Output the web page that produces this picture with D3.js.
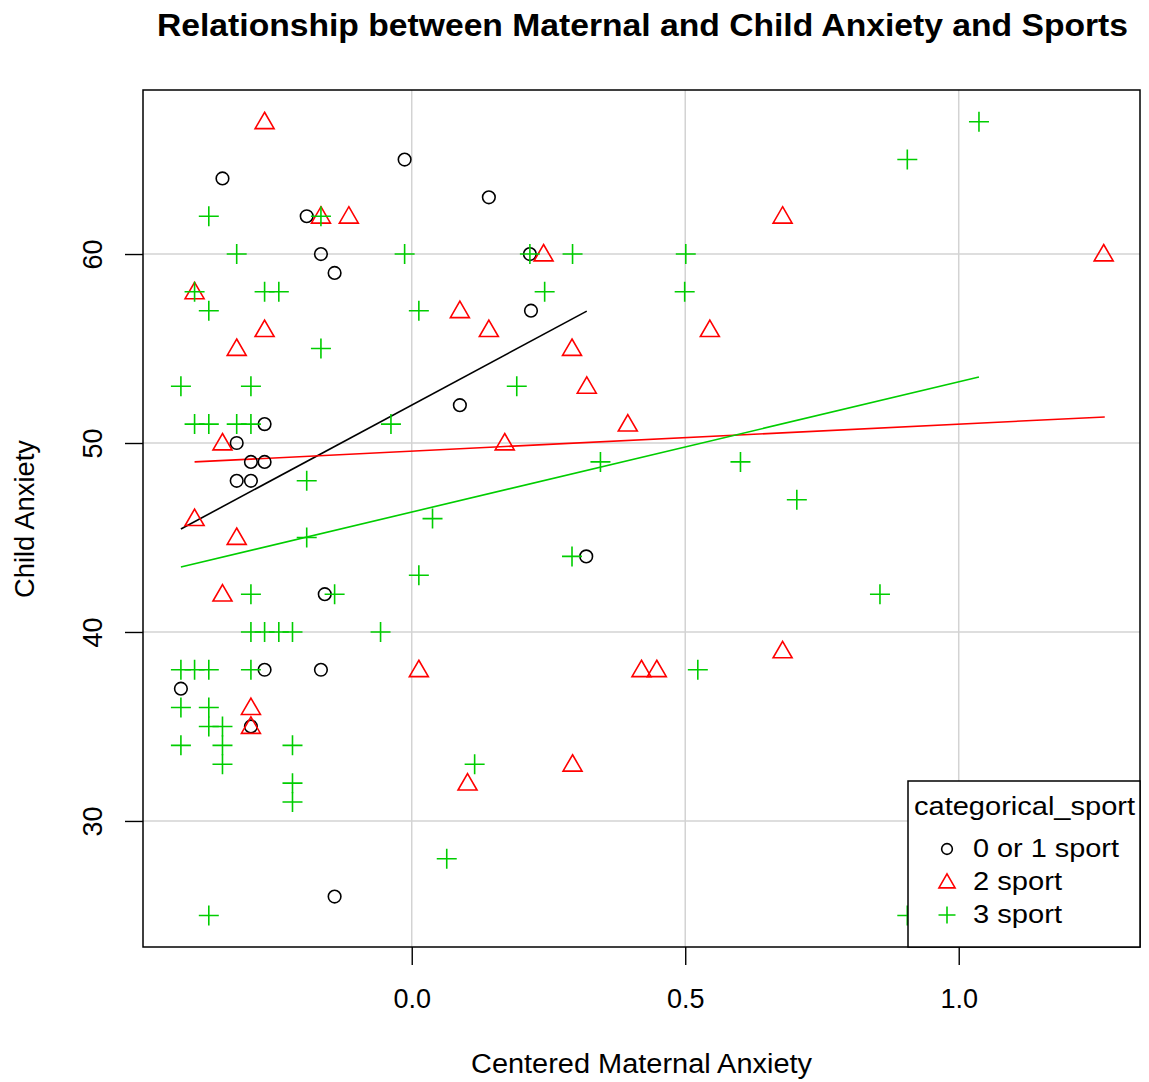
<!DOCTYPE html>
<html><head><meta charset="utf-8">
<script src="https://cdn.jsdelivr.net/npm/d3@7"></script>
<style>body{margin:0;background:#fff}svg{display:block}text{font-family:"Liberation Sans",Arial,sans-serif}</style>
</head><body>
<script>
// Data (Centered Maternal Anxiety, Child Anxiety)
const sport01X = [-0.346,-0.013,-0.192,-0.166,-0.141,0.141,0.216,0.218,0.088,-0.269,-0.320,-0.294,-0.269,-0.320,-0.294,-0.159,-0.269,-0.166,-0.422,-0.294,-0.141,0.319];
const sport01Y = [64,65,62,60,59,63,60,57,52,51,50,49,49,48,48,42,38,38,37,35,26,44];
const sport2X = [-0.269,-0.166,-0.115,-0.397,-0.269,-0.320,-0.346,-0.397,-0.320,-0.346,0.013,-0.294,-0.294,0.241,0.088,0.141,0.293,0.320,0.395,0.170,0.545,0.420,0.448,0.294,0.102,0.678,1.265,0.678];
const sport2Y = [67,62,62,58,56,55,50,46,45,42,38,36,35,60,57,56,55,53,51,50,56,38,38,33,32,62,60,39];
const sport3X = [-0.371,-0.166,-0.320,-0.013,-0.397,-0.269,-0.243,-0.371,0.013,-0.166,-0.422,-0.294,-0.397,-0.371,-0.320,-0.294,-0.038,-0.192,0.038,-0.192,0.013,-0.294,-0.141,-0.294,-0.269,-0.243,-0.218,-0.057,-0.422,-0.397,-0.371,-0.294,-0.422,-0.371,-0.371,-0.346,-0.422,-0.346,-0.346,-0.218,-0.218,-0.218,-0.371,0.216,0.294,0.501,0.243,0.499,0.192,0.345,0.601,0.293,0.523,0.115,0.064,1.037,0.906,0.704,0.856,0.906];
const sport3Y = [62,62,60,60,58,58,58,57,57,55,53,53,51,51,51,51,51,48,46,45,43,42,42,40,40,40,40,40,38,38,38,38,36,36,35,35,34,34,33,34,32,31,25,60,60,60,58,58,53,49,49,44,38,33,28,67,65,47,42,25];
// Fitted regression lines per group: [x0, x1], [y0, y1]
const fit01X = [-0.422, 0.320], fit01Y = [45.45, 56.98];
const fit2X = [-0.397, 1.267], fit2Y = [49.0, 51.38];
const fit3X = [-0.422, 1.037], fit3Y = [43.44, 53.49];
const groupNames = ["0 or 1 sport","2 sport","3 sport"];
const groupColors = ["#000000","#ff0000","#00cd00"];
const xTicks = [0.0, 0.5, 1.0];
const yTicks = [30, 40, 50, 60];

const W = 1149, H = 1082;
const L = 143, R = 1140, T = 90, B = 947;
const svg = d3.select("body").append("svg").attr("width", W).attr("height", H);
const x = d3.scaleLinear().domain([-0.4913, 1.3314]).range([L, R]);
const y = d3.scaleLinear().domain([23.33, 68.68]).range([B, T]);

// grid
const grid = svg.append("g").attr("stroke", "#d3d3d3").attr("stroke-width", 1.5);
xTicks.forEach(t => grid.append("line").attr("x1", x(t)).attr("x2", x(t)).attr("y1", T).attr("y2", B));
yTicks.forEach(t => grid.append("line").attr("x1", L).attr("x2", R).attr("y1", y(t)).attr("y2", y(t)));

// axes
const xAxis = d3.axisBottom(x).tickValues(xTicks).tickFormat(d3.format(".1f")).tickSizeInner(18).tickSizeOuter(0).tickPadding(0);
const gx = svg.append("g").attr("transform", `translate(0,${B})`).call(xAxis);
gx.select(".domain").remove();
gx.selectAll("line").attr("stroke", "#000").attr("stroke-width", 1.4);
gx.selectAll("text").attr("font-size", 27).attr("fill", "#000").attr("y", 61).attr("dy", 0);

const yAxis = d3.axisLeft(y).tickValues(yTicks).tickFormat(d3.format("d")).tickSizeInner(18).tickSizeOuter(0);
const gy = svg.append("g").attr("transform", `translate(${L},0)`).call(yAxis);
gy.select(".domain").remove();
gy.selectAll("line").attr("stroke", "#000").attr("stroke-width", 1.4);
gy.selectAll("text").attr("font-size", 27).attr("fill", "#000")
  .attr("x", 0).attr("y", 0).attr("dy", 0).attr("text-anchor", "middle")
  .attr("transform", "translate(-41,0) rotate(-90)");

// fit lines
const fits = [[fit01X, fit01Y],[fit2X, fit2Y],[fit3X, fit3Y]];
fits.forEach((f, i) => {
  svg.append("line").attr("x1", x(f[0][0])).attr("y1", y(f[1][0])).attr("x2", x(f[0][1])).attr("y2", y(f[1][1]))
    .attr("stroke", groupColors[i]).attr("stroke-width", 1.6);
});

// markers
function marker(g, type, cx, cy, color, s) {
  s = s || 1;
  if (type === 0) {
    g.append("circle").attr("cx", cx).attr("cy", cy).attr("r", 6.3 * s).attr("fill", "none").attr("stroke", color).attr("stroke-width", 1.6);
  } else if (type === 1) {
    const a = 9.5 * s, h = 16.4 * s;
    const pts = [[cx, cy - h * 0.58], [cx + a, cy + h * 0.42], [cx - a, cy + h * 0.42]];
    g.append("path").attr("d", "M" + pts.map(p => p.join(",")).join("L") + "Z").attr("fill", "none").attr("stroke", color).attr("stroke-width", 1.6);
  } else {
    const a = 10 * s;
    g.append("path").attr("d", `M${cx - a},${cy}H${cx + a}M${cx},${cy - a}V${cy + a}`).attr("fill", "none").attr("stroke", color).attr("stroke-width", 1.6);
  }
}
const pts = svg.append("g");
[[sport01X, sport01Y],[sport2X, sport2Y],[sport3X, sport3Y]].forEach((d, i) => {
  d[0].forEach((xv, j) => marker(pts, i, x(xv), y(d[1][j]), groupColors[i]));
});

// frame
svg.append("rect").attr("x", L).attr("y", T).attr("width", R - L).attr("height", B - T).attr("fill", "none").attr("stroke", "#000").attr("stroke-width", 1.5);

// titles
svg.append("text").attr("x", 157).attr("y", 36).attr("font-size", 32).attr("font-weight", "bold")
  .attr("textLength", 971).attr("lengthAdjust", "spacingAndGlyphs")
  .text("Relationship between Maternal and Child Anxiety and Sports");
svg.append("text").attr("x", 471).attr("y", 1073).attr("font-size", 27)
  .attr("textLength", 341).attr("lengthAdjust", "spacingAndGlyphs").text("Centered Maternal Anxiety");
svg.append("text").attr("transform", `translate(34,598) rotate(-90)`).attr("font-size", 27)
  .attr("textLength", 158).attr("lengthAdjust", "spacingAndGlyphs").text("Child Anxiety");

// legend
const lg = svg.append("g");
lg.append("rect").attr("x", 908).attr("y", 781).attr("width", R - 908).attr("height", B - 781).attr("fill", "#fff").attr("stroke", "#000").attr("stroke-width", 1.5);
lg.append("text").attr("x", 914).attr("y", 815).attr("font-size", 26)
  .attr("textLength", 221).attr("lengthAdjust", "spacingAndGlyphs").text("categorical_sport");
const legW = [146, 89, 89];
groupNames.forEach((n, i) => {
  const yy = 849 + i * 33;
  marker(lg, i, 947, yy, groupColors[i], 0.85);
  lg.append("text").attr("x", 973).attr("y", yy + 8).attr("font-size", 26)
    .attr("textLength", legW[i]).attr("lengthAdjust", "spacingAndGlyphs").text(n);
});
</script>
</body></html>
